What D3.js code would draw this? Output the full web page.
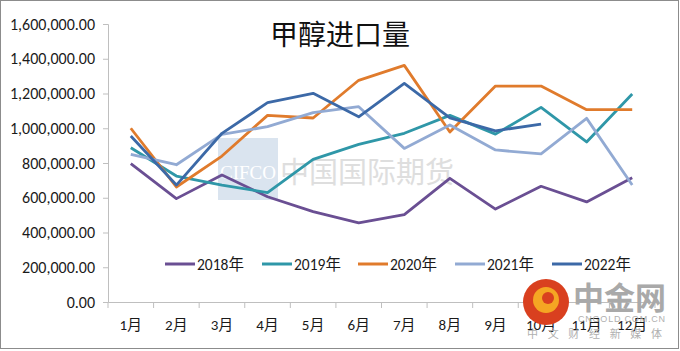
<!DOCTYPE html>
<html>
<head>
<meta charset="utf-8">
<script src="https://cdn.jsdelivr.net/npm/d3@7"></script>
<style>
  body { margin: 0; background: #fff; }
  text { font-family: Carlito, Calibri, "Liberation Sans", "Noto Sans CJK SC", sans-serif; }
</style>
</head>
<body>
<div id="chart"></div>
<script>
// dati
const months = ['1月', '2月', '3月', '4月', '5月', '6月', '7月', '8月', '9月', '10月', '11月', '12月'];
const years = ['2018年', '2019年', '2020年', '2021年', '2022年'];
const v2018 = [796000, 595000, 731000, 606000, 520000, 456000, 503000, 712000, 535000, 666000, 576000, 715000];
const v2019 = [888000, 725000, 673000, 630000, 821000, 907000, 971000, 1074000, 966000, 1120000, 921000, 1197000];
const v2020 = [1000000, 662000, 840000, 1074000, 1059000, 1276000, 1362000, 978000, 1243000, 1243000, 1107000, 1107000];
const v2021 = [850000, 790000, 965000, 1009000, 1090000, 1124000, 884000, 1019000, 875000, 852000, 1057000, 673000];
const v2022 = [955000, 673000, 971000, 1147000, 1201000, 1066000, 1258000, 1060000, 985000, 1024000];
const yTicks = [0, 200000, 400000, 600000, 800000, 1000000, 1200000, 1400000, 1600000];
const colors = ['#6a4f93', '#2f97a8', '#e07b2c', '#92aad3', '#3c69a7'];

const [width, height] = [680, 351];
const margin = { left: 108, right: 25, top: 24, bottom: 49 };

const svg = d3.select('#chart').append('svg')
  .attr('width', width)
  .attr('height', height);

// cornice
svg.append('rect')
  .attr('x', 0.5).attr('y', 0.5)
  .attr('width', width - 2).attr('height', height - 3)
  .attr('fill', '#fff')
  .attr('stroke', '#8c8c8c');

const x = d3.scaleBand()
  .domain(months)
  .range([margin.left, width - margin.right]);

const y = d3.scaleLinear()
  .domain([0, 1600000])
  .range([height - margin.bottom, margin.top]);

// watermark CIFCO
svg.append('rect')
  .attr('x', 218).attr('y', 138)
  .attr('width', 60).attr('height', 62)
  .attr('fill', '#dae4ef');
svg.append('text')
  .attr('x', 220).attr('y', 179)
  .style('font-family', '"Liberation Serif", serif')
  .attr('font-size', 18)
  .attr('textLength', 56)
  .attr('lengthAdjust', 'spacingAndGlyphs')
  .attr('fill', '#fff')
  .text('CIFCO');
svg.append('text')
  .attr('x', 280).attr('y', 183)
  .style('font-family', '"Noto Sans CJK SC", sans-serif')
  .attr('font-size', 29)
  .attr('fill', '#dedede')
  .text('中国国际期货');

// asse y
const yAxis = svg.append('g')
  .attr('transform', `translate(${margin.left},0)`)
  .call(d3.axisLeft(y).tickValues(yTicks).tickSize(5).tickPadding(8)
    .tickFormat(d3.format(',.2f')));
yAxis.selectAll('path, line').attr('stroke', '#bfbfbf');
yAxis.selectAll('text').attr('font-size', 16).attr('fill', '#1a1a1a')
  .style('font-family', 'Carlito, "Liberation Sans", sans-serif');

// asse x
const xAxis = svg.append('g')
  .attr('transform', `translate(0,${y(0)})`)
  .call(d3.axisBottom(x).tickSize(0).tickPadding(17));
xAxis.select('path').attr('stroke', '#bfbfbf');
xAxis.selectAll('text').attr('font-size', 15).attr('fill', '#1a1a1a')
  .style('font-family', 'Carlito, "Noto Sans CJK SC", sans-serif');
xAxis.selectAll('.sep')
  .data(d3.range(months.length + 1))
  .enter().append('line')
  .attr('class', 'sep')
  .attr('x1', (i) => margin.left + i * x.step())
  .attr('x2', (i) => margin.left + i * x.step())
  .attr('y1', 0).attr('y2', 6)
  .attr('stroke', '#bfbfbf');

// titolo
svg.append('text')
  .attr('x', 340).attr('y', 45)
  .attr('text-anchor', 'middle')
  .style('font-family', '"Noto Sans CJK SC", sans-serif')
  .attr('font-size', 28)
  .attr('fill', '#111')
  .text('甲醇进口量');

// linee
const series = [v2018, v2019, v2020, v2021, v2022];
const line = d3.line()
  .x((d, i) => x(months[i]) + x.bandwidth() / 2)
  .y((d) => y(d));

svg.append('g').selectAll('path')
  .data(series)
  .enter()
  .append('path')
  .attr('d', line)
  .attr('fill', 'none')
  .attr('stroke', (d, i) => colors[i])
  .attr('stroke-width', 2.8)
  .attr('stroke-linejoin', 'round');

// legenda
const legendX = [165, 262, 358, 455, 552];
const legend = svg.append('g').selectAll('g')
  .data(years)
  .enter().append('g')
  .attr('transform', (d, i) => `translate(${legendX[i]},264)`);
legend.append('line')
  .attr('x1', 0).attr('x2', 30)
  .attr('stroke', (d, i) => colors[i])
  .attr('stroke-width', 3);
legend.append('text')
  .attr('x', 32).attr('y', 5.5)
  .attr('font-size', 15.5)
  .attr('fill', '#1a1a1a')
  .style('font-family', 'Carlito, "Noto Sans CJK SC", sans-serif')
  .text((d) => d);

// logo 中金网
const logo = svg.append('g');
logo.append('circle')
  .attr('cx', 546).attr('cy', 302).attr('r', 23)
  .attr('fill', '#d9401f');
logo.append('circle')
  .attr('cx', 546).attr('cy', 300).attr('r', 13)
  .attr('fill', '#f5a623');
logo.append('circle')
  .attr('cx', 548).attr('cy', 298).attr('r', 6)
  .attr('fill', '#d9401f');
logo.append('text')
  .attr('x', 573).attr('y', 309)
  .style('font-family', '"Noto Sans CJK SC", sans-serif')
  .attr('font-size', 31)
  .attr('font-weight', 'bold')
  .attr('fill', '#a9a9a9')
  .text('中金网');
logo.append('text')
  .attr('x', 578).attr('y', 322)
  .style('font-family', '"Liberation Sans", sans-serif')
  .attr('font-size', 9)
  .attr('fill', '#b0b0b0')
  .attr('textLength', 87)
  .text('CNGOLD.COM.CN');
logo.append('text')
  .attr('x', 527).attr('y', 338)
  .style('font-family', '"Noto Sans CJK SC", sans-serif')
  .attr('font-size', 11)
  .attr('fill', '#b0b0b0')
  .attr('textLength', 135)
  .text('中文财经新媒体');
</script>
</body>
</html>
